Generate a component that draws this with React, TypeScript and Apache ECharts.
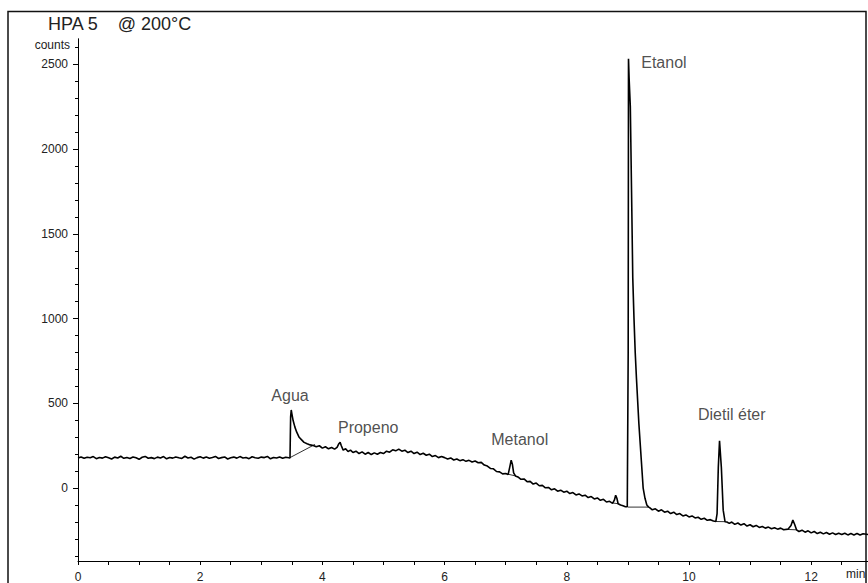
import React, { useEffect, useRef } from "react";
import * as echarts from "echarts";

// Chromatogram trace: [time (min), counts]
const baselineStart: [number, number][] = [
  [0.0, 178], [0.05, 184], [0.1, 176], [0.15, 182], [0.2, 179], [0.25, 186], [0.3, 174], [0.35, 181],
  [0.4, 177], [0.45, 185], [0.5, 179], [0.55, 172], [0.6, 183], [0.65, 178], [0.7, 188], [0.75, 176],
  [0.8, 181], [0.85, 175], [0.9, 184], [0.95, 179], [1.0, 170], [1.05, 182], [1.1, 187], [1.15, 176],
  [1.2, 180], [1.25, 174], [1.3, 183], [1.35, 178], [1.4, 186], [1.45, 173], [1.5, 181], [1.55, 177],
  [1.6, 184], [1.65, 179], [1.7, 175], [1.75, 188], [1.8, 178], [1.85, 182], [1.9, 171], [1.95, 180],
  [2.0, 185], [2.05, 177], [2.1, 183], [2.15, 176], [2.2, 181], [2.25, 187], [2.3, 175], [2.35, 180],
  [2.4, 184], [2.45, 172], [2.5, 179], [2.55, 183], [2.6, 177], [2.65, 186], [2.7, 178], [2.75, 181],
  [2.8, 174], [2.85, 185], [2.9, 179], [2.95, 176], [3.0, 183], [3.05, 180], [3.1, 187], [3.15, 173],
  [3.2, 181], [3.25, 178], [3.3, 184], [3.35, 176], [3.4, 182], [3.45, 179],
];
const aguaPropenoRegion: [number, number][] = [
  [3.47, 178], [3.475, 300], [3.48, 420], [3.49, 461], [3.5, 440], [3.52, 400], [3.55, 360], [3.58, 330],
  [3.62, 300], [3.66, 285], [3.7, 270], [3.75, 262], [3.8, 255], [3.85, 252], [3.9, 244], [3.95, 250],
  [4.0, 236], [4.05, 244], [4.1, 232], [4.15, 240], [4.2, 230], [4.24, 240], [4.27, 262], [4.29, 270],
  [4.31, 250], [4.34, 224], [4.38, 232], [4.42, 216], [4.46, 224], [4.5, 210], [4.55, 218], [4.6, 204],
  [4.65, 214], [4.7, 200], [4.75, 210], [4.8, 198], [4.85, 208], [4.9, 200], [4.95, 210], [5.0, 204],
  [5.05, 218], [5.1, 212], [5.15, 226], [5.2, 220], [5.25, 230], [5.3, 218], [5.35, 224], [5.4, 210],
  [5.45, 218], [5.5, 204], [5.55, 212], [5.6, 198], [5.65, 206], [5.7, 194], [5.75, 200], [5.8, 186],
  [5.85, 192], [5.9, 180], [5.95, 186],
];
const metanolRegion: [number, number][] = [
  [6.0, 180], [6.05, 172], [6.1, 178], [6.15, 166], [6.2, 172], [6.25, 162], [6.3, 168], [6.35, 158],
  [6.4, 164], [6.45, 154], [6.5, 160], [6.55, 150], [6.6, 152], [6.65, 136], [6.7, 130], [6.75, 116],
  [6.8, 114], [6.85, 98], [6.9, 96], [6.95, 84], [7.0, 86], [7.04, 80], [7.07, 130], [7.09, 165],
  [7.11, 140], [7.13, 90], [7.16, 72], [7.2, 66], [7.25, 52], [7.3, 54], [7.35, 38], [7.4, 40],
  [7.45, 24], [7.5, 30], [7.55, 14], [7.6, 16], [7.65, 2], [7.7, 4], [7.75, -10], [7.8, -4],
  [7.85, -18], [7.9, -12], [7.95, -24], [8.0, -18], [8.05, -32], [8.1, -26], [8.15, -40], [8.2, -34],
  [8.25, -46], [8.3, -42], [8.35, -56], [8.4, -50], [8.45, -64], [8.5, -58], [8.55, -72], [8.6, -66],
  [8.65, -82], [8.7, -78], [8.75, -90], [8.78, -70], [8.8, -42], [8.82, -60], [8.84, -92], [8.88, -100],
  [8.92, -104], [8.96, -110], [8.99, -110],
];
const etanolRegion: [number, number][] = [
  [9.0, -110], [9.005, 800], [9.01, 2533], [9.02, 2420], [9.04, 2250], [9.06, 1750], [9.08, 1240],
  [9.1, 1000], [9.12, 800], [9.14, 650], [9.18, 380], [9.22, 163], [9.25, 0], [9.28, -60], [9.31, -100],
  [9.34, -112], [9.36, -116], [9.4, -128], [9.45, -122], [9.5, -136], [9.55, -128], [9.6, -142],
  [9.65, -136], [9.7, -150], [9.75, -142], [9.8, -156], [9.85, -150], [9.9, -164], [9.95, -158],
  [10.0, -170], [10.05, -164], [10.1, -176], [10.15, -172], [10.2, -184], [10.25, -178], [10.3, -190],
  [10.35, -186], [10.4, -194],
];
const dietilRegion: [number, number][] = [
  [10.44, -196], [10.46, -150], [10.48, 122], [10.5, 279], [10.51, 279], [10.53, 122], [10.56, -130],
  [10.59, -198], [10.62, -200], [10.66, -208], [10.7, -200], [10.75, -214], [10.8, -206], [10.85, -218],
  [10.9, -210], [10.95, -224], [11.0, -216], [11.05, -228], [11.1, -220], [11.15, -232], [11.2, -226],
  [11.25, -236], [11.3, -230], [11.35, -240], [11.4, -234], [11.45, -242], [11.5, -236], [11.55, -246],
  [11.62, -242], [11.67, -220], [11.7, -188], [11.73, -215], [11.76, -246], [11.8, -256], [11.85, -248],
  [11.9, -260], [11.95, -252], [12.0, -264], [12.05, -256], [12.1, -268], [12.15, -260], [12.2, -270],
  [12.25, -262], [12.3, -272], [12.35, -264], [12.4, -274], [12.45, -266], [12.5, -274], [12.55, -266],
  [12.6, -276], [12.65, -268], [12.7, -276], [12.75, -268], [12.8, -277], [12.85, -269], [12.93, -274],
];

// integration baselines drawn under peaks
const integrationLines: [number, number][][] = [
  [[3.47, 180], [3.88, 258]],
  [[7.04, 82], [7.16, 72]],
  [[8.76, -88], [8.84, -92]],
  [[9.0, -112], [9.33, -112]],
  [[10.44, -197], [10.59, -198]],
  [[11.62, -244], [11.76, -246]],
];

// peak annotations
const peakNames = ["Agua", "Propeno", "Metanol", "Etanol", "Dietil éter"];
const peakLabelTimes = [3.47, 4.75, 7.23, 9.59, 10.7];
const peakLabelCounts = [545, 357, 286, 2509, 433];

const xLabelValues = [0, 2, 4, 6, 8, 10, 12];
const xTickValues = [0, 0.5, 1, 1.5, 2, 2.5, 3, 3.5, 4, 4.5, 5, 5.5, 6, 6.5, 7, 7.5, 8, 8.5, 9, 9.5, 10, 10.5, 11, 11.5, 12, 12.5];
const yLabelValues = [0, 500, 1000, 1500, 2000, 2500];
const yMinorTickValues = [
  -400, -300, -200, -100, 100, 200, 300, 400, 600, 700, 800, 900, 1100, 1200, 1300, 1400,
  1600, 1700, 1800, 1900, 2100, 2200, 2300, 2400, 2600,
];

const X_MIN = 0;
const X_MAX = 12.93;
const Y_MIN = -430;
const Y_MAX = 2650;

const FONT = 'Arial, "Liberation Sans", sans-serif';

export default function App() {
  const ref = useRef<HTMLDivElement>(null);
  useEffect(() => {
    if (!ref.current) return;
    const chart = echarts.init(ref.current, undefined, { renderer: "svg" });
    const trace = [
      ...baselineStart,
      ...aguaPropenoRegion,
      ...metanolRegion,
      ...etanolRegion,
      ...dietilRegion,
    ];
    const integrationSeries = integrationLines.map((seg) => ({
      type: "line",
      data: seg,
      showSymbol: false,
      silent: true,
      lineStyle: { color: "#333", width: 1 },
      z: 1,
    }));
    chart.setOption({
      animation: false,
      backgroundColor: "#fff",
      grid: { left: 78, top: 39, right: 0, bottom: 19, containLabel: false },
      graphic: [
        {
          type: "rect",
          shape: { x: 8, y: 11.5, width: 858, height: 620 },
          style: { fill: "none", stroke: "#111", lineWidth: 1.5 },
          silent: true,
        },
        {
          type: "text",
          left: 48,
          top: 15,
          style: { text: "HPA 5    @ 200°C", fontSize: 18, fontFamily: FONT, fill: "#222" },
        },
        {
          type: "text",
          right: 868 - 70,
          top: 39,
          style: { text: "counts", fontSize: 12, fontFamily: FONT, fill: "#222" },
        },
        {
          type: "text",
          left: 846,
          top: 568,
          style: { text: "min", fontSize: 12, fontFamily: FONT, fill: "#222" },
        },
      ],
      xAxis: [
        {
          type: "value",
          min: X_MIN,
          max: X_MAX,
          splitLine: { show: false },
          axisLine: { show: true, onZero: false, lineStyle: { color: "#000", width: 1 } },
          axisTick: { show: true, length: 4, customValues: xTickValues, lineStyle: { color: "#000" } },
          axisLabel: {
            customValues: xLabelValues,
            margin: 10,
            fontSize: 12,
            fontFamily: FONT,
            color: "#222",
            formatter: (v: number) => String(v),
          },
        },
      ],
      yAxis: [
        {
          type: "value",
          min: Y_MIN,
          max: Y_MAX,
          splitLine: { show: false },
          axisLine: { show: true, onZero: false, lineStyle: { color: "#000", width: 1 } },
          axisTick: { show: true, length: 5, customValues: yLabelValues, lineStyle: { color: "#000" } },
          axisLabel: {
            customValues: yLabelValues,
            margin: 10,
            fontSize: 12,
            fontFamily: FONT,
            color: "#222",
            formatter: (v: number) => String(v),
          },
        },
        {
          type: "value",
          min: Y_MIN,
          max: Y_MAX,
          position: "left",
          splitLine: { show: false },
          axisLine: { show: true, onZero: false, lineStyle: { color: "#000", width: 1 } },
          axisTick: { show: true, length: 3, customValues: yMinorTickValues, lineStyle: { color: "#000" } },
          axisLabel: { show: false },
        },
      ],
      series: [
        {
          type: "line",
          data: trace,
          showSymbol: false,
          silent: true,
          lineStyle: { color: "#000", width: 1.6 },
          z: 3,
        },
        ...integrationSeries,
        {
          type: "scatter",
          symbolSize: 0,
          silent: true,
          data: peakNames.map((n, i) => ({ name: n, value: [peakLabelTimes[i], peakLabelCounts[i]] })),
          label: {
            show: true,
            position: "inside",
            formatter: "{b}",
            fontSize: 16,
            fontFamily: FONT,
            color: "#222",
          },
          z: 4,
        },
      ],
    });
    return () => chart.dispose();
  }, []);
  return (
    <div
      ref={ref}
      style={{ position: "absolute", left: 0, top: 0, width: 868, height: 583 }}
    />
  );
}
